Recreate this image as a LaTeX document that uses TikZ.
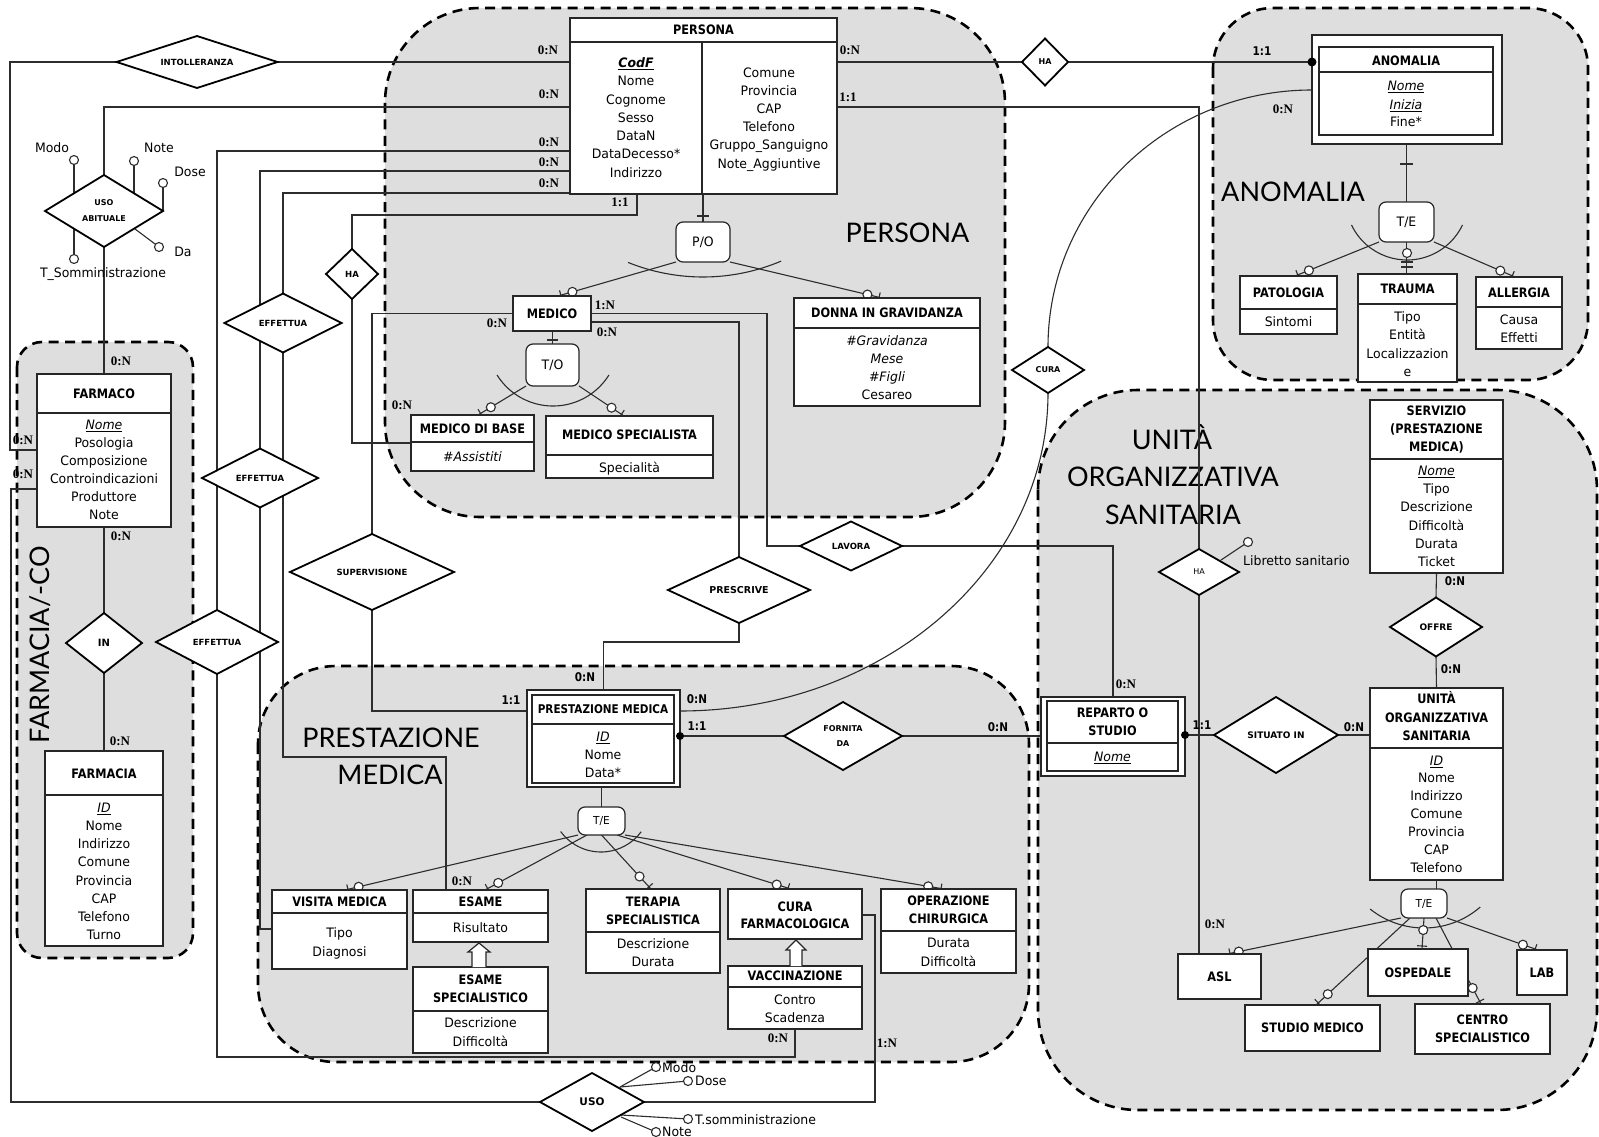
\documentclass[tikz,border=0pt]{standalone}
\usepackage{fontspec}
\setmainfont{DejaVu Sans}
\newfontfamily\attrfont[FakeStretch=0.96]{DejaVu Sans}
\newfontfamily\headfont[FakeStretch=0.87]{DejaVu Sans}
\newfontfamily\relfont{DejaVu Sans}
\newfontfamily\cardfont{Liberation Serif}
\newfontfamily\titlefont{Lato}
\usetikzlibrary{shapes.geometric,calc}
\pgfdeclarelayer{regions}
\pgfdeclarelayer{links}
\pgfsetlayers{regions,links,main}
\definecolor{regfill}{RGB}{222,222,222}
\definecolor{linkc}{RGB}{45,45,45}

% entity box given by its corners
\newcommand{\entbox}[6][]{%
  \node[ent,#1,minimum width={#5-#3},minimum height={#6-#4}] (#2) at ({(#3+#5)/2},{(#4+#6)/2}) {};}
% column of attribute lines
\newcommand{\attrlist}[4]{%
  \foreach \itm [count=\idx from 0] in {#4} {\node[tx] at (#1,{#2+#3*\idx}) {\itm};}}
% column of header lines
\newcommand{\hdlist}[4]{%
  \foreach \itm [count=\idx from 0] in {#4} {\node[hd] at (#1,{#2+#3*\idx}) {\itm};}}
% generalisation branch: line, optional circle and tick at the child end
\newcommand{\isalink}[3][15]{%
  \draw[link] (#2) -- (#3);
  \draw[link] ($(#3)!3pt!(#2)!5pt!90:(#2)$) -- ($(#3)!3pt!(#2)!5pt!-90:(#2)$);
  \draw[lolc] ($(#3)!#1pt!(#2)$) circle[radius=4.5];}
% attribute lollipop
\newcommand{\lolli}[2]{\draw[link] (#1) -- (#2); \draw[lolc] (#2) circle[radius=4.5];}

\begin{document}
\begin{tikzpicture}[x=1pt,y=-1pt,
  region/.style={fill=regfill,draw=black,line width=2.6pt,dash pattern=on 10pt off 6.5pt},
  link/.style={draw=linkc,line width=1.1pt},
  lolc/.style={draw=linkc,line width=1.1pt,fill=white},
  ent/.style={rectangle,draw=black!85,line width=1.3pt,fill=white,inner sep=0pt,outer sep=0pt},
  entl/.style={draw=black!85,line width=1.2pt},
  rel/.style={diamond,draw=black,line width=1.8pt,fill=white,inner sep=0pt,outer sep=0pt,aspect=2.5,align=center,
    font=\relfont\bfseries\fontsize{8.5}{10}\selectfont},
  isab/.style={rectangle,rounded corners=7pt,draw=black!85,line width=1.2pt,fill=white,inner sep=0pt,outer sep=0pt,
    font=\attrfont\fontsize{13}{15}\selectfont},
  tx/.style={inner sep=0pt,anchor=base,yshift=-4.5pt,font=\attrfont\fontsize{13}{15}\selectfont},
  hd/.style={inner sep=0pt,anchor=base,yshift=-4.7pt,font=\headfont\bfseries\fontsize{13}{15}\selectfont},
  cd/.style={inner sep=0pt,anchor=base,yshift=-4.3pt,font=\cardfont\bfseries\fontsize{13}{15}\selectfont},
  cs/.style={inner sep=0pt,anchor=base,yshift=-4.3pt,font=\headfont\bfseries\fontsize{12}{14}\selectfont},
  ttl/.style={inner sep=0pt,anchor=base,yshift=-9.7pt,font=\titlefont\fontsize{27}{30}\selectfont},
  ttlr/.style={inner sep=0pt,anchor=center,font=\titlefont\fontsize{27}{30}\selectfont}]

\useasboundingbox (0,0) rectangle (1599,1137);

% ---------- grouping areas ----------
\begin{pgfonlayer}{regions}
\fill[white] (0,0) rectangle (1599,1137);
\draw[region,rounded corners=95pt] (385,8) rectangle (1005,517);
\draw[region,rounded corners=60pt] (1213,8) rectangle (1588,380);
\draw[region,rounded corners=25pt] (17,342) rectangle (193,958);
\draw[region,rounded corners=78pt] (258,666) rectangle (1029,1062);
\draw[region,rounded corners=100pt] (1038,390) rectangle (1597,1110);
\node[ttl] at (907.5,233) {PERSONA};
\node[ttl] at (1293,192) {ANOMALIA};
\node[ttl] at (1172,440) {UNITÀ};
\node[ttl] at (1173,477) {ORGANIZZATIVA};
\node[ttl] at (1173,515) {SANITARIA};
\node[ttl] at (391,738) {PRESTAZIONE};
\node[ttl] at (390,775) {MEDICA};
\node[ttlr,rotate=90] at (40,645) {FARMACIA/-CO};
\end{pgfonlayer}

% ---------- entities ----------
\entbox{persona}{570}{18}{837}{194}
\draw[entl] (570,42) -- (837,42);
\draw[entl] (702,42) -- (702,194);
\node[hd] at (703.5,30) {PERSONA};
\node[tx] at (636,63) {\bfseries\itshape\underline{CodF}};
\attrlist{636}{81.3}{18.3}{Nome,Cognome,Sesso,DataN,DataDecesso*,Indirizzo}
\attrlist{769}{73}{18.1}{Comune,Provincia,CAP,Telefono,Gruppo\_Sanguigno,Note\_Aggiuntive}

\entbox[line width=1.6pt]{anom}{1312}{35}{1502}{144}
\draw[entl] (1319,47) rectangle (1493,135);
\draw[entl] (1319,72) -- (1493,72);
\node[hd] at (1406,61) {ANOMALIA};
\node[tx] at (1406,86) {\itshape\underline{Nome}};
\node[tx] at (1406,105) {\itshape\underline{Inizia}};
\node[tx] at (1406,122) {Fine*};

\entbox{pato}{1240}{276}{1337}{334}
\draw[entl] (1240,309) -- (1337,309);
\node[hd] at (1288.5,293) {PATOLOGIA};
\node[tx] at (1288.5,322) {Sintomi};

\entbox{trauma}{1358}{274}{1457}{382}
\draw[entl] (1358,304) -- (1457,304);
\node[hd] at (1407.5,289) {TRAUMA};
\attrlist{1407.5}{317}{18.3}{Tipo,Entità,Localizzazion,e}

\entbox{allergia}{1476}{277}{1562}{349}
\draw[entl] (1476,307) -- (1562,307);
\node[hd] at (1519,293) {ALLERGIA};
\attrlist{1519}{320}{18}{Causa,Effetti}

\entbox{medico}{513}{296}{591}{331}
\node[hd] at (552,313.5) {MEDICO};

\entbox{mdb}{411}{415}{534}{471}
\draw[entl] (411,442) -- (534,442);
\node[hd] at (472.5,429) {MEDICO DI BASE};
\node[tx] at (472.5,457) {\itshape\#Assistiti};

\entbox{msp}{546}{416}{713}{478}
\draw[entl] (546,455) -- (713,455);
\node[hd] at (629.5,435) {MEDICO SPECIALISTA};
\node[tx] at (629.5,468) {Specialità};

\entbox{donna}{794}{298}{980}{406}
\draw[entl] (794,328) -- (980,328);
\node[hd] at (887,313) {DONNA IN GRAVIDANZA};
\attrlist{887}{341}{18}{{\itshape\#Gravidanza},{\itshape Mese},{\itshape\#Figli},Cesareo}

\entbox{farmaco}{37}{374}{171}{527}
\draw[entl] (37,413) -- (171,413);
\node[hd] at (104,394) {FARMACO};
\node[tx] at (104,425) {\itshape\underline{Nome}};
\attrlist{104}{443}{18}{Posologia,Composizione,Controindicazioni,Produttore,Note}

\entbox{farmacia}{45}{751}{163}{946}
\draw[entl] (45,795) -- (163,795);
\node[hd] at (104,774) {FARMACIA};
\node[tx] at (104,808) {\itshape\underline{ID}};
\attrlist{104}{826}{18.17}{Nome,Indirizzo,Comune,Provincia,CAP,Telefono,Turno}

\entbox[line width=2pt]{prest}{527}{690}{680}{787}
\draw[entl] (532,695) rectangle (674,783);
\draw[entl] (532,724) -- (674,724);
\node[hd,font=\headfont\bfseries\fontsize{12}{14}\selectfont] at (603,709) {PRESTAZIONE MEDICA};
\node[tx] at (603,737) {\itshape\underline{ID}};
\attrlist{603}{755}{18}{Nome,Data*}

\entbox{visita}{272}{890}{407}{969}
\draw[entl] (272,913) -- (407,913);
\node[hd] at (339.5,902) {VISITA MEDICA};
\attrlist{339.5}{933}{19}{Tipo,Diagnosi}

\entbox{esame}{413}{890}{548}{942}
\draw[entl] (413,913) -- (548,913);
\node[hd] at (480.5,902) {ESAME};
\node[tx] at (480.5,928) {Risultato};

\entbox{esamesp}{413}{967}{548}{1053}
\draw[entl] (413,1011) -- (548,1011);
\hdlist{480.5}{980}{18}{ESAME,SPECIALISTICO}
\attrlist{480.5}{1023}{19}{Descrizione,Difficoltà}

\entbox{terapia}{586}{889}{720}{973}
\draw[entl] (586,932) -- (720,932);
\hdlist{653}{902}{18}{TERAPIA,SPECIALISTICA}
\attrlist{653}{944}{18}{Descrizione,Durata}

\entbox{curaf}{728}{889}{862}{939}
\hdlist{795}{907}{17}{CURA,FARMACOLOGICA}

\entbox{vacc}{728}{966}{862}{1029}
\draw[entl] (728,987) -- (862,987);
\node[hd] at (795,976) {VACCINAZIONE};
\attrlist{795}{1000}{18}{Contro,Scadenza}

\entbox{oper}{881}{889}{1016}{973}
\draw[entl] (881,931) -- (1016,931);
\hdlist{948.5}{901}{18}{OPERAZIONE,CHIRURGICA}
\attrlist{948.5}{943}{19}{Durata,Difficoltà}

\entbox[line width=2pt]{reparto}{1041}{697}{1185}{776}
\draw[entl] (1047,701) rectangle (1178,771);
\draw[entl] (1047,743) -- (1178,743);
\hdlist{1112.5}{713}{18}{REPARTO O,STUDIO}
\node[tx] at (1112.5,757) {\itshape\underline{Nome}};

\entbox{servizio}{1370}{400}{1503}{573}
\draw[entl] (1370,459) -- (1503,459);
\node[hd] at (1436.5,411) {SERVIZIO};
\node[hd] at (1436.5,429) {(PRESTAZIONE};
\node[hd] at (1436.5,447) {MEDICA)};
\node[tx] at (1436.5,471) {\itshape\underline{Nome}};
\attrlist{1436.5}{489}{18.25}{Tipo,Descrizione,Difficoltà,Durata,Ticket}

\entbox{unita}{1370}{688}{1503}{880}
\draw[entl] (1370,748) -- (1503,748);
\hdlist{1436.5}{699}{18.5}{UNITÀ,ORGANIZZATIVA,SANITARIA}
\node[tx] at (1436.5,761) {\itshape\underline{ID}};
\attrlist{1436.5}{778}{18}{Nome,Indirizzo,Comune,Provincia,CAP,Telefono}

\entbox{asl}{1178}{954}{1261}{999}
\node[hd] at (1219.5,977) {ASL};
\entbox{osp}{1368}{949}{1468}{996}
\node[hd] at (1418,972.5) {OSPEDALE};
\entbox{lab}{1517}{950}{1567}{995}
\node[hd] at (1542,972.5) {LAB};
\entbox{stud}{1245}{1005}{1380}{1051}
\node[hd] at (1312.5,1028) {STUDIO MEDICO};
\entbox{centro}{1415}{1004}{1550}{1054}
\hdlist{1482.5}{1020}{18}{CENTRO,SPECIALISTICO}

% inheritance arrows
\draw[entl,fill=white] (472,967) -- (472,952) -- (468,952) -- (479,943) -- (490,952) -- (486,952) -- (486,967);
\draw[entl,fill=white] (790,966) -- (790,950) -- (786,950) -- (796,940) -- (806,950) -- (802,950) -- (802,966);

% ---------- generalisation boxes ----------
\node[isab,minimum width=54,minimum height=40] (po) at (703,242) {P/O};
\node[isab,minimum width=53,minimum height=42] (to) at (552.5,365) {T/O};
\node[isab,minimum width=55,minimum height=40] (te1) at (1406.5,222) {T/E};
\node[isab,minimum width=47,minimum height=28,font=\attrfont\fontsize{11}{13}\selectfont] (te2) at (601.5,821) {T/E};
\node[isab,minimum width=46,minimum height=29,font=\attrfont\fontsize{11}{13}\selectfont] (te3) at (1424,903.5) {T/E};

% ---------- relationships ----------
\node[rel,minimum width=161,minimum height=52] (intol) at (197,62) {INTOLLERANZA};
\node[rel,minimum width=118,minimum height=72,font=\relfont\bfseries\fontsize{8}{16}\selectfont] (usoab) at (104,211) {USO\\ABITUALE};
\node[rel,minimum width=52,minimum height=50] (hap) at (352,274) {HA};
\node[rel,minimum width=117,minimum height=59] (eff1) at (283,323) {EFFETTUA};
\node[rel,minimum width=116,minimum height=59] (eff2) at (260,478) {EFFETTUA};
\node[rel,minimum width=122,minimum height=64] (eff3) at (217,642) {EFFETTUA};
\node[rel,minimum width=76,minimum height=60,font=\relfont\bfseries\fontsize{10}{12}\selectfont] (inrel) at (104,643) {IN};
\node[rel,minimum width=164,minimum height=76] (superv) at (372,572) {SUPERVISIONE};
\node[rel,minimum width=142,minimum height=66,font=\relfont\bfseries\fontsize{9.5}{11}\selectfont] (prescr) at (739,590) {PRESCRIVE};
\node[rel,minimum width=102,minimum height=49] (lavora) at (851,546) {LAVORA};
\node[rel,minimum width=46,minimum height=47,font=\relfont\bfseries\fontsize{8}{10}\selectfont] (haa) at (1045,62) {HA};
\node[rel,minimum width=72,minimum height=46,font=\relfont\bfseries\fontsize{8}{10}\selectfont] (cura) at (1048,370) {CURA};
\node[rel,minimum width=80,minimum height=46,font=\relfont\fontsize{8}{10}\selectfont] (hau) at (1199,572) {HA};
\node[rel,minimum width=118,minimum height=68,font=\relfont\bfseries\fontsize{8}{15}\selectfont] (fornita) at (843,736) {FORNITA\\DA};
\node[rel,minimum width=124,minimum height=76,font=\relfont\bfseries\fontsize{9}{11}\selectfont] (situato) at (1276,735) {SITUATO IN};
\node[rel,minimum width=92,minimum height=59,font=\relfont\bfseries\fontsize{9}{11}\selectfont] (offre) at (1436,627) {OFFRE};
\node[rel,minimum width=104,minimum height=58,font=\relfont\bfseries\fontsize{10.5}{12}\selectfont] (uso) at (592,1102) {USO};

% ---------- connectors ----------
\begin{pgfonlayer}{links}
\draw[link] (intol.east) -- (intol.east -| persona.west);
\draw[link] (intol.west) -- (10,62) -- (10,450) -- (farmaco.west |- 10,450);
\draw[link] (usoab.north) |- (persona.west |- 0,107);
\draw[link] (usoab.south) -- (farmaco.north);
\draw[link] (persona.west |- 0,151) -| (eff3.north);
\draw[link] (persona.west |- 0,171) -| (eff2.north);
\draw[link] (persona.west |- 0,193) -| (eff1.north);
\draw[link] (persona.south -| 637,0) -- (637,215) -| (hap.north);
\draw[link] (hap.south) |- (mdb.west);
\draw[link] (medico.west) -| (superv.north);
\draw[link] (medico.east) -| (767,546) -- (lavora.west);
\draw[link] (medico.east |- 0,322) -| (prescr.north);
\draw[link] (prescr.south) |- (prest.north |- 0,642) -- (prest.north);
\draw[link] (superv.south) |- (prest.west |- 0,711);
\draw[link] (lavora.east) -| (reparto.north);
\draw[link] (prest.east |- fornita.west) -- (fornita.west);
\draw[link] (fornita.east) -- (fornita.east -| reparto.west);
\draw[link] (reparto.east |- situato.west) -- (situato.west);
\draw[link] (situato.east) -- (situato.east -| unita.west);
\draw[link] (persona.east |- haa.west) -- (haa.west);
\draw[link] (haa.east) -- (haa.east -| anom.west);
\draw[link] (persona.east |- 0,107) -| (hau.north);
\draw[link] (hau.south) -- (hau.south |- asl.north);
\draw[link] (anom.west |- 0,90) arc[start angle=270,end angle=180,x radius=264,y radius=257];
\draw[link] (cura.south) arc[start angle=0,end angle=90,x radius=368,y radius=318];
\draw[link] (servizio.south) -- (offre.north);
\draw[link] (offre.south) -- (unita.north);
\draw[link] (eff1.south) |- (446,757) -- (esame.north -| 446,0);
\draw[link] (eff2.south) |- (visita.west |- 0,929);
\draw[link] (eff3.south) |- (vacc.south |- 0,1057) -- (vacc.south);
\draw[link] (uso.west) -- (11,1102) -- (11,489) -- (farmaco.west |- 0,489);
\draw[link] (uso.east) -| (875,915) -- (curaf.east |- 0,915);
\draw[link] (farmaco.south) -- (inrel.north);
\draw[link] (inrel.south) -- (farmacia.north);

% generalisations
\draw[link] (persona.south -| po.north) -- (po.north);
\draw[link] (697,216) -- (709,216);
\draw[link] (703,77) ++(112:200) arc[start angle=112,end angle=67,radius=200];
\isalink{po.south west}{medico.north -| 558,0}
\isalink{po.south east}{donna.north -| 882,0}

\draw[link] (medico.south -| to.north) -- (to.north);
\draw[link] (547,340) -- (558,340);
\draw[link] (553,340) ++(148:66) arc[start angle=148,end angle=32,radius=66];
\isalink{to.south west}{mdb.north -| 478,0}
\isalink{to.south east}{msp.north -| 624,0}

\draw[link] (anom.south -| te1.north) -- (te1.north);
\draw[link] (1400,164) -- (1413,164);
\draw[link] (1407,198.5) ++(154.5:61.5) arc[start angle=154.5,end angle=25.5,radius=61.5];
\isalink{te1.south west}{pato.north -| 1295,0}
\draw[link] (te1.south) -- (te1.south |- trauma.north);
\draw[link] (1401,262) -- (1413,262);
\draw[link] (1401,267) -- (1413,267);
\draw[lolc] (1407,253) circle[radius=4.5];
\isalink[16]{te1.south east}{allergia.north -| 1515,0}

\draw[link] (te2.north |- prest.south) -- (te2.north);
\draw[link] (601,802) ++(143.8:50) arc[start angle=143.8,end angle=36.6,radius=50];
\isalink[14]{te2.south west}{visita.north -| 345,0}
\isalink{te2.south -| 587,0}{esame.north -| 485,0}
\isalink[17]{te2.south}{terapia.north -| 651,0}
\isalink{te2.south -| 617,0}{curaf.north -| 791,0}
\isalink[16]{te2.south east}{oper.north -| 944,0}

\draw[link] (unita.south) -- (unita.south |- te3.north);
\draw[link] (1424,842) ++(128.8:86) arc[start angle=128.8,end angle=49.2,radius=86];
\isalink[12]{te3.south west}{asl.north -| 1227,0}
\isalink[19]{te3.south}{osp.north -| 1422,0}
\isalink[16]{te3.south -| 1410,0}{stud.north -| 1316,0}
\isalink[18]{te3.south -| 1436,0}{centro.north -| 1481,0}
\isalink[16]{te3.south east}{lab.north -| 1538,0}

% attributes of relationships
\lolli{74,193}{74,160}
\lolli{134,193}{134,161}
\lolli{163,211}{163,183}
\lolli{135,229}{159,247}
\lolli{74,229}{74,259}
\lolli{1221,560}{1248,542}
\lolli{620,1087}{656,1067}
\lolli{620,1087}{688,1081}
\lolli{621,1115}{688,1119}
\lolli{621,1117}{656,1132}
\end{pgfonlayer}

\node[tx] at (52,148) {Modo};
\node[tx] at (159,148) {Note};
\node[tx] at (190,172) {Dose};
\node[tx] at (183,252) {Da};
\node[tx] at (103,273) {T\_Somministrazione};
\node[tx,anchor=base west] at (1243,561) {Libretto sanitario};
\node[tx,anchor=base west] at (662,1068) {Modo};
\node[tx,anchor=base west] at (695,1081) {Dose};
\node[tx,anchor=base west] at (695,1120) {T.somministrazione};
\node[tx,anchor=base west] at (662,1132) {Note};

% identifier dots
\fill[black] (prest.east |- fornita.west) circle[radius=4];
\fill[black] (reparto.east |- situato.west) circle[radius=4];
\fill[black] (anom.west |- haa.west) circle[radius=4.5];

% ---------- cardinalities ----------
\node[cd] at (548,50) {0:N};
\node[cd] at (549,94) {0:N};
\node[cd] at (549,142) {0:N};
\node[cd] at (549,162) {0:N};
\node[cd] at (549,183) {0:N};
\node[cd] at (620,202) {1:1};
\node[cd] at (850,50) {0:N};
\node[cd] at (848,97) {1:1};
\node[cs] at (1262,51) {1:1};
\node[cd] at (1283,109) {0:N};
\node[cd] at (23,440) {0:N};
\node[cd] at (23,474) {0:N};
\node[cd] at (121,361) {0:N};
\node[cd] at (121,536) {0:N};
\node[cd] at (120,741) {0:N};
\node[cd] at (402,405) {0:N};
\node[cd] at (497,323) {0:N};
\node[cd] at (605,305) {1:N};
\node[cd] at (607,332) {0:N};
\node[cs] at (585,677) {0:N};
\node[cs] at (511,700) {1:1};
\node[cs] at (697,699) {0:N};
\node[cs] at (697,726) {1:1};
\node[cs] at (998,727) {0:N};
\node[cd] at (1126,684) {0:N};
\node[cs] at (1202,725) {1:1};
\node[cs] at (1354,727) {0:N};
\node[cs] at (1455,581) {0:N};
\node[cs] at (1451,669) {0:N};
\node[cd] at (1215,924) {0:N};
\node[cd] at (462,881) {0:N};
\node[cd] at (778,1038) {0:N};
\node[cd] at (887,1043) {1:N};
\end{tikzpicture}
\end{document}
